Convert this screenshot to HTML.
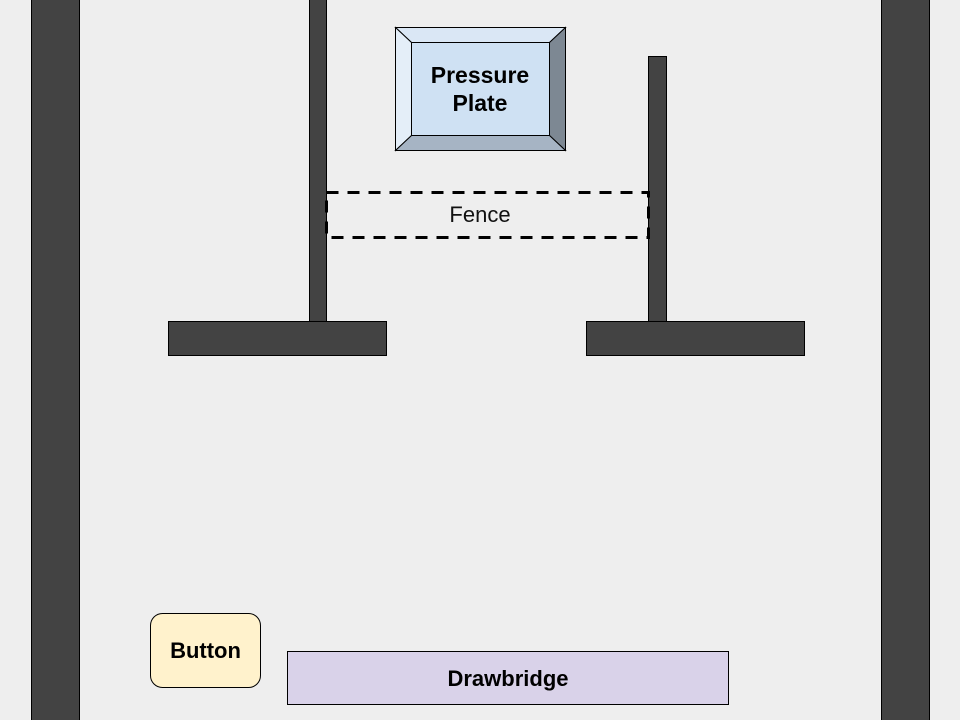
<!DOCTYPE html>
<html><head><style>
body{margin:0;background:#eeeeee;}
svg{display:block}
</style></head><body>
<svg width="960" height="720" xmlns="http://www.w3.org/2000/svg" font-family="Liberation Sans, sans-serif">
<rect width="960" height="720" fill="#eeeeee"/>
<rect x="31.5" y="-2" width="48" height="724" fill="#434343" stroke="#000"/>
<rect x="881.5" y="-2" width="48" height="724" fill="#434343" stroke="#000"/>
<rect x="309.5" y="-2" width="17" height="324" fill="#434343" stroke="#000"/>
<rect x="648.5" y="56.5" width="18" height="265" fill="#434343" stroke="#000"/>
<rect x="168.5" y="321.5" width="218" height="34" fill="#434343" stroke="#000"/>
<rect x="586.5" y="321.5" width="218" height="34" fill="#434343" stroke="#000"/>
<rect x="326.5" y="192.5" width="322" height="45" fill="none" stroke="#000" stroke-width="3" stroke-dasharray="12,9"/>
<text x="480" y="222" font-size="22" text-anchor="middle" fill="#111">Fence</text>
<polygon points="395.5,27.5 565.5,27.5 549.5,42.5 411.5,42.5" fill="#dae7f5" stroke="#000"/>
<polygon points="395.5,27.5 411.5,42.5 411.5,135.5 395.5,150.5" fill="#e4eef8" stroke="#000"/>
<polygon points="565.5,27.5 565.5,150.5 549.5,135.5 549.5,42.5" fill="#7d8893" stroke="#000"/>
<polygon points="395.5,150.5 411.5,135.5 549.5,135.5 565.5,150.5" fill="#a6b4c4" stroke="#000"/>
<rect x="411.5" y="42.5" width="138" height="93" fill="#cfe1f3" stroke="#000"/>
<text x="480" y="83" font-size="23" font-weight="bold" text-anchor="middle">Pressure</text>
<text x="480" y="111" font-size="23" font-weight="bold" text-anchor="middle">Plate</text>
<rect x="150.5" y="613.5" width="110" height="74" rx="12" fill="#fff2cc" stroke="#000"/>
<text x="205.5" y="658" font-size="22" font-weight="bold" text-anchor="middle">Button</text>
<rect x="287.5" y="651.5" width="441" height="53" fill="#d9d2e9" stroke="#000"/>
<text x="508" y="686" font-size="22" font-weight="bold" text-anchor="middle">Drawbridge</text>
</svg>
</body></html>
